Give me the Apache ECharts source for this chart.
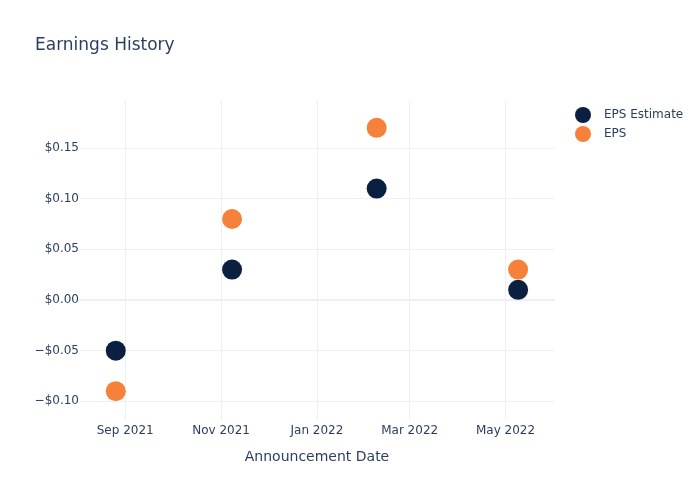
<!DOCTYPE html>
<html>
<head>
<meta charset="utf-8">
<script src="https://cdn.jsdelivr.net/npm/echarts@6/dist/echarts.min.js"></script>
<style>html,body{margin:0;padding:0;background:#fff}#c{width:700px;height:500px}</style>
</head>
<body>
<div id="c"></div>
<script>
const dates = ['2021-08-26', '2021-11-08', '2022-02-08', '2022-05-09'];
const epsEstimate = [-0.05, 0.03, 0.11, 0.01];
const eps = [-0.09, 0.08, 0.17, 0.03];
const xTicks = ['2021-09-01', '2021-11-01', '2022-01-01', '2022-03-01', '2022-05-01'];
const yTicks = [-0.10, -0.05, 0.00, 0.05, 0.10, 0.15];

const FONT = 'DejaVu Sans';
const TXT = '#2a3f5f';
const GRID = '#ebf0f8';
const ts = s => new Date(s + 'T00:00:00Z').getTime();
const months = ['Jan','Feb','Mar','Apr','May','Jun','Jul','Aug','Sep','Oct','Nov','Dec'];

const chart = echarts.init(document.getElementById('c'), null, {renderer: 'canvas'});
chart.setOption({
  animation: false,
  backgroundColor: '#fff',
  textStyle: {fontFamily: FONT},
  title: {
    text: 'Earnings History', left: 30, top: 32,
    textStyle: {fontFamily: FONT, fontSize: 17, fontWeight: 'normal', color: TXT}
  },
  legend: {
    orient: 'vertical', left: 570, top: 102, itemGap: 3,
    icon: 'circle', itemWidth: 32, itemHeight: 16,
    textStyle: {fontFamily: FONT, fontSize: 12, color: TXT},
    data: ['EPS Estimate', 'EPS']
  },
  grid: {left: 80, right: 146, top: 100, bottom: 80, containLabel: false},
  xAxis: {
    type: 'value',
    min: ts('2021-08-03') + 6 * 3600e3,
    max: ts('2022-05-31') + 20 * 3600e3,
    name: 'Announcement Date', nameLocation: 'middle', nameGap: 30,
    nameTextStyle: {fontFamily: FONT, fontSize: 14, color: TXT},
    axisLine: {show: true, onZero: true, lineStyle: {color: GRID, width: 2}},
    axisTick: {show: false, customValues: xTicks.map(ts)},
    splitLine: {show: true, lineStyle: {color: GRID, width: 1}},
    axisLabel: {
      customValues: xTicks.map(ts), margin: 5,
      fontFamily: FONT, fontSize: 12, color: TXT,
      formatter: v => { const d = new Date(v); return months[d.getUTCMonth()] + ' ' + d.getUTCFullYear(); }
    }
  },
  yAxis: {
    type: 'value', min: -0.1185, max: 0.1975,
    axisLine: {show: false}, axisTick: {show: false, customValues: yTicks},
    splitLine: {show: true, lineStyle: {color: GRID, width: 1}},
    axisLabel: {
      customValues: yTicks, margin: 1,
      fontFamily: FONT, fontSize: 12, color: TXT,
      formatter: v => (v < -1e-9 ? '\u2212' : '') + '$' + Math.abs(v).toFixed(2)
    }
  },
  series: [
    {name: 'EPS Estimate', type: 'scatter', symbolSize: 20,
     itemStyle: {color: '#0b1f41', opacity: 1},
     data: dates.map((d, i) => [ts(d), epsEstimate[i]])},
    {name: 'EPS', type: 'scatter', symbolSize: 20,
     itemStyle: {color: '#f5813a', opacity: 1},
     data: dates.map((d, i) => [ts(d), eps[i]])}
  ]
});
</script>
</body>
</html>
